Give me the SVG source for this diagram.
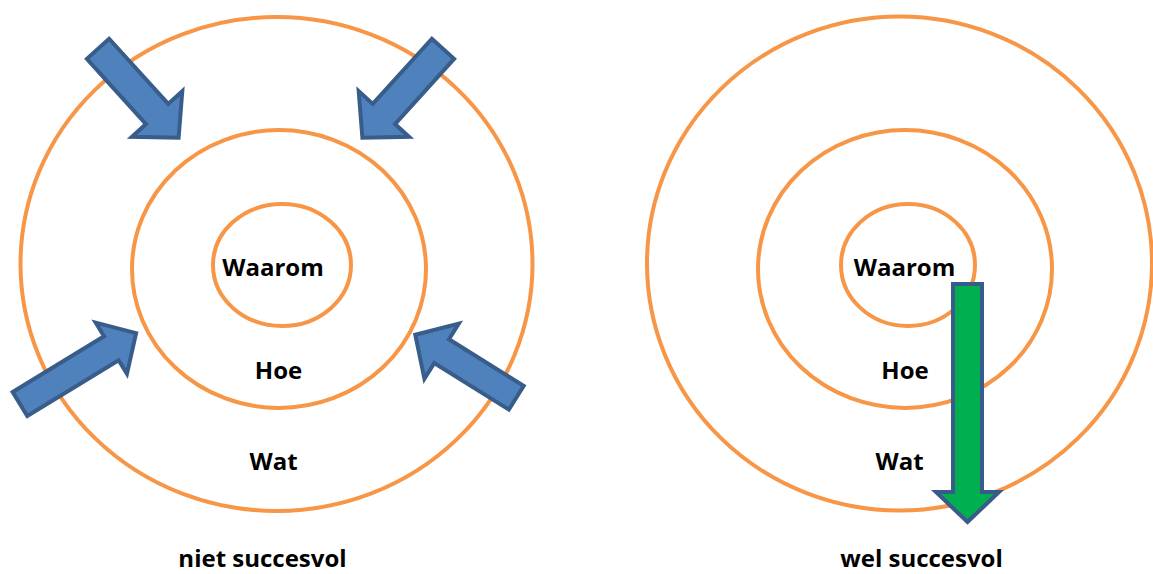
<svg xmlns="http://www.w3.org/2000/svg" width="1153" height="574" viewBox="0 0 1153 574">
<style>
.ring{fill:none;stroke:#F79646;stroke-width:4}
.blue{fill:#4F81BD;stroke:#385D8A;stroke-width:4;stroke-linejoin:miter}
.green{fill:#00B050;stroke:#3A5A8C;stroke-width:4}
.lbl{font-family:"Open Sans","Liberation Sans",sans-serif;font-weight:700;font-size:24px;fill:#000;text-anchor:middle}
</style>
<rect width="1153" height="574" fill="#fff"/>
<g id="left-rings">
<ellipse id="left-wat" class="ring" cx="276.5" cy="264" rx="256" ry="247"/>
<ellipse id="left-hoe" class="ring" cx="279" cy="269" rx="147" ry="139"/>
<ellipse id="left-waarom" class="ring" cx="282" cy="265" rx="69" ry="61"/>
</g>
<g id="right-rings">
<ellipse id="right-wat" class="ring" cx="899.5" cy="263.5" rx="252.5" ry="247"/>
<ellipse id="right-hoe" class="ring" cx="905" cy="269" rx="147" ry="139"/>
<ellipse id="right-waarom" class="ring" cx="908" cy="265" rx="67" ry="61"/>
</g>
<g id="labels">
<text class="lbl" x="273" y="276">Waarom</text>
<text class="lbl" x="278.5" y="379">Hoe</text>
<text class="lbl" x="273.5" y="469.5">Wat</text>
<text class="lbl" x="262.5" y="567">niet succesvol</text>
<text class="lbl" x="904.5" y="276">Waarom</text>
<text class="lbl" x="905" y="379">Hoe</text>
<text class="lbl" x="899.5" y="469.5">Wat</text>
<text class="lbl" x="921.5" y="567">wel succesvol</text>
</g>
<g id="connectors">
<path id="arrow-tl" class="blue" transform="translate(98,48.8) rotate(47.8)" d="M0,-15 L88,-15 L88,-34 L120,0 L88,34 L88,15 L0,15 Z"/>
<path id="arrow-tr" class="blue" transform="translate(443,48.8) rotate(132.2)" d="M0,15 L88,15 L88,34 L120,0 L88,-34 L88,-15 L0,-15 Z"/>
<path id="arrow-bl" class="blue" transform="translate(20,404) rotate(-31.4)" d="M0,-14 L107,-14 L107,-30 L136,0 L107,30 L107,14 L0,14 Z"/>
<path id="arrow-br" class="blue" transform="translate(516.3,397.7) rotate(211.9)" d="M0,-14 L88,-14 L88,-32.5 L119,0 L88,32.5 L88,14 L0,14 Z"/>
<path id="arrow-green" class="green" d="M953,284 L982,284 L982,492 L999,492 L967.5,522 L936,492 L953,492 Z"/>
</g>
</svg>
